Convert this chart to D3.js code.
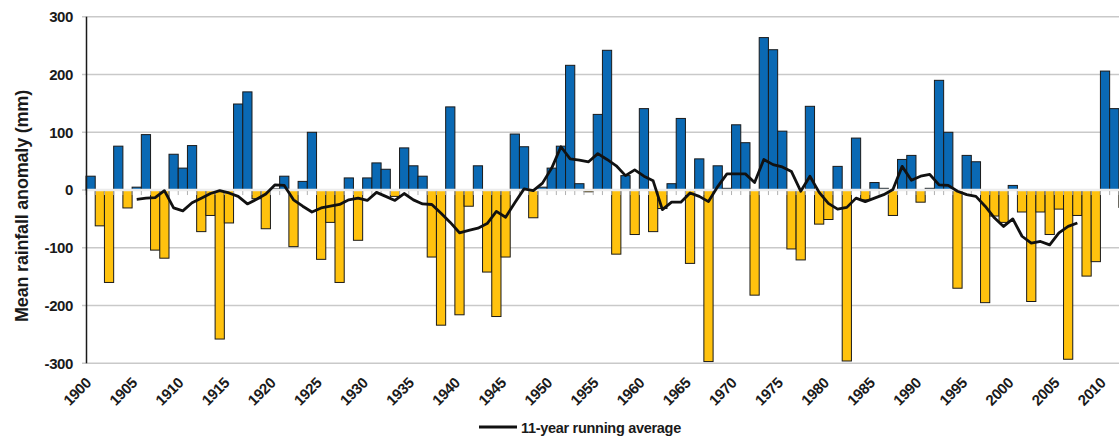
<!DOCTYPE html>
<html>
<head>
<meta charset="utf-8">
<script src="https://cdn.jsdelivr.net/npm/d3@7"></script>
<style>
    body { margin: 0; background: #fff; overflow: hidden; }
    text { font-family: "Liberation Sans", Arial, sans-serif; font-weight: bold; fill: #1a1a1a; }
</style>
</head>
<body>
<script>
//Data
    const years = d3.range(1900, 2013);
    const anomalies = [
        24, -62, -160, 76, -31, 5, 96, -104, -118, 62,
        38, 77, -72, -44, -258, -57, 149, 170, -15, -67,
        2, 24, -98, 15, 100, -120, -56, -160, 21, -87,
        21, 47, 36, -11, 73, 42, 24, -116, -234, 144,
        -216, -28, 42, -142, -219, -116, 97, 75, -48, 5,
        38, 76, 216, 11, -3, 131, 242, -111, 25, -77,
        141, -72, -32, 11, 124, -127, 54, -297, 42, 3,
        113, 82, -182, 264, 243, 102, -102, -121, 145, -59,
        -51, 41, -296, 90, -17, 13, 3, -44, 53, 60,
        -21, 3, 190, 100, -170, 60, 49, -195, -45, -56,
        8, -38, -193, -38, -77, -33, -293, -44, -149, -124,
        206, 141, -30
    ];
    const avgYears = d3.range(1905, 2008);
    const avgValues = [
        -16, -14, -13, -1, -31,
        -36, -22, -14, -6, -1, -5, -11, -24, -16, -7,
        9, 8, -17, -28, -38, -31, -28, -25, -17, -14,
        -18, -4, -11, -18, -6, -17, -24, -25, -40, -56,
        -74, -70, -66, -58, -37, -47, -22, 2, -1, 12,
        38, 75, 54, 52, 49, 63, 53, 42, 25, 35,
        24, 16, -34, -21, -21, -5, -11, -20, 6, 28,
        28, 28, 13, 53, 44, 40, 32, -2, 24, -4,
        -23, -33, -30, -14, -20, -14, -8, 1, 41, 17,
        24, 27, 9, 8, -2, -8, -11, -28, -48, -63,
        -50, -80, -92, -89, -95, -74, -63, -57
    ];
    const yTicks = [-300, -200, -100, 0, 100, 200, 300];
    const xLabelYears = d3.range(1900, 2011, 5);

//Variables
    const width = 1119;
    const height = 440;
    const left = 86;
    const step = 9.222;

    const svg = d3.select("body")
        .append("svg")
        .attr("width", width)
        .attr("height", height);

//Scales
    const xScale = d3.scaleBand()
        .domain(years)
        .range([left, left + years.length * step])
        .padding(0);

    const yScale = d3.scaleLinear()
        .domain([-300, 300])
        .range([363.3, 16.8]);

//Grid
    svg.append("g")
        .selectAll("line")
        .data(yTicks)
        .enter()
        .append("line")
        .attr("x1", left - 4)
        .attr("x2", width)
        .attr("y1", d => yScale(d))
        .attr("y2", d => yScale(d))
        .attr("stroke", "#c9c9c9")
        .attr("stroke-width", 1.4);

//Bars
    const data = years.map((y, i) => ({ year: y, value: anomalies[i] }));

    svg.append("g")
        .selectAll("rect")
        .data(data)
        .enter()
        .append("rect")
        .attr("x", d => xScale(d.year))
        .attr("y", d => yScale(Math.max(0, d.value)))
        .attr("width", xScale.bandwidth())
        .attr("height", d => Math.abs(yScale(d.value) - yScale(0)))
        .attr("fill", d => d.value >= 0 ? "#0a69b4" : "#ffc20e")
        .attr("stroke", "#1a1a1a")
        .attr("stroke-width", 1);

//Zero axis with ticks
    svg.append("line")
        .attr("x1", left)
        .attr("x2", width)
        .attr("y1", yScale(0))
        .attr("y2", yScale(0))
        .attr("stroke", "#ececec")
        .attr("stroke-width", 2.5);

    svg.append("g")
        .selectAll("line")
        .data(years)
        .enter()
        .append("line")
        .attr("x1", d => xScale(d))
        .attr("x2", d => xScale(d))
        .attr("y1", yScale(0) + 1)
        .attr("y2", yScale(0) + 5)
        .attr("stroke", "#b0b0b0")
        .attr("stroke-width", 1);

//Y axis
    svg.append("line")
        .attr("x1", left + 0.5)
        .attr("x2", left + 0.5)
        .attr("y1", yScale(300))
        .attr("y2", yScale(-300))
        .attr("stroke", "#1a1a1a")
        .attr("stroke-width", 1.5);

    svg.append("g")
        .selectAll("text")
        .data(yTicks)
        .enter()
        .append("text")
        .attr("x", 73)
        .attr("y", d => yScale(d))
        .attr("dy", "0.36em")
        .attr("text-anchor", "end")
        .style("font-size", "15px")
        .style("letter-spacing", "-0.4px")
        .text(d => d);

    svg.append("text")
        .attr("transform", "translate(28, 206) rotate(-90)")
        .attr("text-anchor", "middle")
        .style("font-size", "18px")
        .style("letter-spacing", "-0.2px")
        .text("Mean rainfall anomaly (mm)");

//X labels
    svg.append("g")
        .selectAll("text")
        .data(xLabelYears)
        .enter()
        .append("text")
        .attr("transform", d => `translate(${xScale(d) + xScale.bandwidth() / 2 + 1.5}, 384) rotate(-45)`)
        .attr("text-anchor", "end")
        .style("font-size", "15px")
        .style("letter-spacing", "-0.4px")
        .text(d => d);

//Running average
    const line = d3.line()
        .x((d, i) => xScale(avgYears[i]) + xScale.bandwidth() / 2)
        .y(d => yScale(d));

    svg.append("path")
        .datum(avgValues)
        .attr("d", line)
        .attr("fill", "none")
        .attr("stroke", "#111")
        .attr("stroke-width", 2.8)
        .attr("stroke-linejoin", "round");

//Legend
    svg.append("line")
        .attr("x1", 479)
        .attr("x2", 517)
        .attr("y1", 427)
        .attr("y2", 427)
        .attr("stroke", "#111")
        .attr("stroke-width", 3);

    svg.append("text")
        .attr("x", 521)
        .attr("y", 433)
        .style("font-size", "14.5px")
        .style("letter-spacing", "-0.3px")
        .text("11-year running average");
</script>
</body>
</html>
